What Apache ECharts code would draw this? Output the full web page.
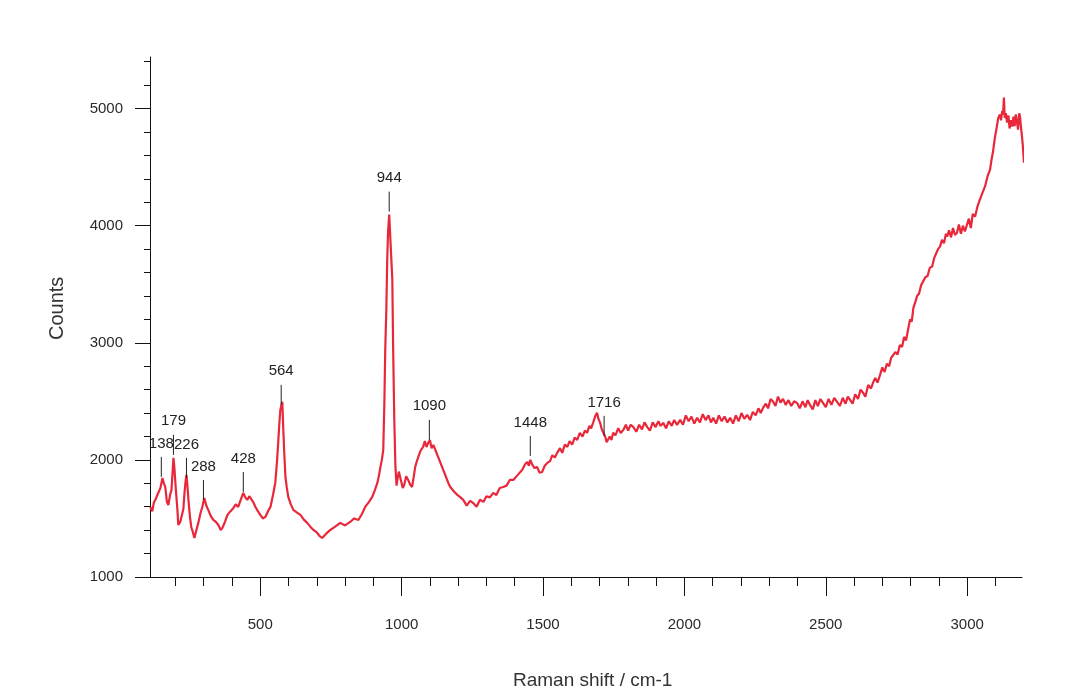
<!DOCTYPE html>
<html>
<head>
<meta charset="utf-8">
<script src="https://cdn.jsdelivr.net/npm/echarts@6/dist/echarts.min.js"></script>
<style>
  html, body { margin: 0; padding: 0; background: #ffffff; }
  #chart { width: 1086px; height: 696px; }
</style>
</head>
<body>
<div id="chart"></div>
<script>
// ---- data ----
const xTitle = 'Raman shift / cm-1';
const yTitle = 'Counts';

const xMajorTicks = [500, 1000, 1500, 2000, 2500, 3000];
const xMinorTicks = [200, 300, 400, 600, 700, 800, 900, 1100, 1200, 1300, 1400, 1600, 1700, 1800, 1900,
  2100, 2200, 2300, 2400, 2600, 2700, 2800, 2900, 3100];
const yMajorTicks = [1000, 2000, 3000, 4000, 5000];
const yMinorTicks = [1200, 1400, 1600, 1800, 2200, 2400, 2600, 2800, 3200, 3400, 3600, 3800,
  4200, 4400, 4600, 4800, 5200, 5400];

// spectrum: [Raman shift, counts]
const spectrum = [
[111,1598],[118,1560],[124,1640],[129,1658],[136,1700],[141,1690],[147,1761],[154,1846],[159,1800],[164,1769],
[170,1640],[175,1615],[181,1700],[186,1744],[190,1900],[193,2017],[196,1940],[201,1760],[207,1573],[210,1444],
[217,1470],[224,1462],[228,1580],[232,1718],[236,1820],[239,1872],[243,1760],[246,1658],[251,1520],[256,1427],
[262,1380],[267,1333],[274,1400],[281,1462],[288,1540],[295,1598],[302,1675],[309,1610],[316,1573],[325,1520],
[334,1487],[343,1470],[352,1444],[360,1400],[366,1419],[375,1470],[384,1530],[394,1560],[405,1590],[413,1620],
[422,1598],[431,1660],[440,1718],[447,1680],[454,1658],[461,1690],[468,1701],[475,1640],[483,1598],[492,1560],
[500,1530],[509,1500],[518,1513],[527,1560],[536,1598],[545,1700],[553,1803],[559,1980],[564,2171],[568,2330],
[571,2427],[575,2470],[578,2496],[581,2282],[585,2050],[589,1855],[594,1760],[599,1684],[608,1620],[617,1573],
[630,1550],[642,1530],[654,1490],[666,1462],[677,1430],[688,1402],[700,1380],[710,1350],[719,1333],[733,1370],
[748,1402],[765,1430],[783,1462],[800,1440],[818,1470],[832,1500],[847,1487],[860,1540],[871,1598],[884,1640],
[896,1684],[905,1740],[914,1803],[920,1870],[925,1940],[930,2000],[935,2085],[939,2500],[942,2940],[946,3300],
[949,3709],[952,3950],[956,4094],[960,4080],[963,4111],[967,3538],[970,2940],[974,2342],[978,1940],[982,1780],
[985,1829],[990,1900],[995,1889],[1000,1800],[1004,1760],[1009,1786],[1016,1860],[1023,1829],[1030,1790],[1037,1769],
[1043,1860],[1048,1940],[1054,1990],[1059,2026],[1067,2080],[1076,2111],[1082,2160],[1088,2110],[1094,2145],[1100,2170],
[1106,2100],[1112,2128],[1120,2080],[1129,2026],[1138,1970],[1147,1914],[1156,1860],[1165,1803],[1172,1769],[1185,1730],
[1197,1701],[1208,1680],[1218,1658],[1230,1610],[1242,1650],[1253,1632],[1265,1600],[1277,1660],[1289,1641],[1300,1690],
[1312,1680],[1324,1718],[1335,1700],[1347,1760],[1359,1769],[1371,1780],[1383,1830],[1395,1829],[1410,1870],[1426,1914],
[1436,1960],[1444,1983],[1450,1950],[1455,2000],[1462,1960],[1470,1930],[1479,1940],[1488,1890],[1497,1897],[1506,1950],
[1515,1974],[1525,1990],[1533,2040],[1542,2020],[1550,2060],[1560,2100],[1568,2060],[1577,2130],[1586,2111],[1594,2160],
[1603,2130],[1612,2190],[1621,2171],[1630,2230],[1640,2200],[1648,2250],[1656,2231],[1664,2290],[1670,2270],[1677,2316],
[1684,2370],[1691,2402],[1696,2350],[1702,2316],[1708,2260],[1714,2230],[1720,2197],[1725,2150],[1730,2145],[1736,2200],
[1742,2170],[1748,2231],[1756,2210],[1766,2270],[1775,2230],[1784,2256],[1793,2300],[1801,2250],[1810,2300],[1819,2282],
[1830,2240],[1840,2300],[1850,2260],[1859,2320],[1868,2282],[1878,2250],[1888,2320],[1898,2280],[1908,2330],[1916,2290],
[1925,2316],[1935,2270],[1945,2330],[1955,2290],[1964,2340],[1974,2299],[1985,2342],[1995,2300],[2005,2380],[2015,2330],
[2025,2370],[2035,2310],[2045,2359],[2055,2320],[2065,2390],[2075,2340],[2085,2380],[2094,2320],[2102,2359],[2112,2310],
[2122,2380],[2132,2330],[2142,2370],[2152,2320],[2162,2359],[2172,2310],[2182,2380],[2192,2330],[2202,2400],[2212,2350],
[2222,2385],[2232,2340],[2242,2410],[2252,2380],[2262,2440],[2270,2400],[2278,2444],[2288,2480],[2296,2440],[2305,2520],
[2314,2496],[2322,2460],[2331,2540],[2340,2490],[2349,2521],[2358,2470],[2368,2510],[2378,2460],[2388,2500],[2398,2487],
[2408,2440],[2418,2500],[2428,2450],[2436,2510],[2444,2470],[2454,2430],[2463,2510],[2472,2460],[2481,2520],[2490,2487],
[2500,2450],[2510,2520],[2520,2470],[2530,2530],[2540,2496],[2550,2460],[2560,2530],[2570,2480],[2578,2540],[2586,2513],
[2595,2480],[2604,2560],[2614,2520],[2623,2600],[2632,2573],[2640,2540],[2650,2640],[2660,2610],[2667,2658],[2675,2700],
[2683,2660],[2692,2726],[2700,2790],[2708,2750],[2716,2820],[2724,2800],[2731,2870],[2738,2855],[2746,2920],[2754,2900],
[2762,2980],[2770,2966],[2777,3050],[2784,3020],[2791,3111],[2798,3200],[2804,3180],[2810,3300],[2816,3342],[2823,3400],
[2830,3420],[2837,3490],[2844,3479],[2852,3560],[2860,3570],[2868,3640],[2876,3650],[2883,3720],[2890,3760],[2897,3800],
[2904,3821],[2911,3880],[2918,3850],[2925,3930],[2929,3906],[2936,3960],[2943,3900],[2950,3980],[2957,3920],[2964,3940],
[2971,4010],[2978,3930],[2985,4000],[2992,3950],[2999,3966],[3006,4060],[3013,3980],[3020,4100],[3028,4077],[3036,4160],
[3045,4222],[3054,4280],[3063,4333],[3072,4420],[3081,4479],[3086,4560],[3091,4624],[3098,4750],[3105,4846],[3110,4920],
[3116,4949],[3120,4900],[3124,4980],[3127,4950],[3130,5094],[3133,4920],[3137,4960],[3141,4880],[3146,4940],[3150,4830],
[3155,4900],[3159,4846],[3164,4930],[3168,4850],[3172,4950],[3176,4889],[3180,4820],[3184,4960],[3187,4932],[3190,4850],
[3194,4761],[3197,4680],[3201,4538]
];

// peak annotations: label text, position on the axis, counts at the foot of the marker
const peakLabels = ['138', '179', '226', '288', '428', '564', '944', '1090', '1448', '1716'];
const peakShift  = [150, 193, 239, 299, 440, 574, 956, 1098, 1455, 1716];
const peakFoot   = [1855, 2043, 1846, 1658, 1726, 2470, 4120, 2171, 2034, 2205];

// ---- chart ----
const chart = echarts.init(document.getElementById('chart'), null, { renderer: 'canvas' });
const FONT = '"Liberation Sans", Arial, sans-serif';
const X_MIN = 110, X_MAX = 3194, Y_MIN = 1000, Y_MAX = 5440;
const plain = v => String(v);

const peakData = peakShift.map((x, i) => [x, peakFoot[i]]);

const option = {
  backgroundColor: '#ffffff',
  animation: false,
  grid: { left: 150, right: 64, top: 57, bottom: 119, containLabel: false },
  xAxis: [
    {
      type: 'value', min: X_MIN, max: X_MAX, position: 'bottom',
      axisLine: { show: true, lineStyle: { color: '#111', width: 1 } },
      axisTick: { show: true, customValues: xMinorTicks, length: 9, lineStyle: { color: '#111' } },
      axisLabel: { show: false },
      splitLine: { show: false }
    },
    {
      type: 'value', min: X_MIN, max: X_MAX, position: 'bottom',
      axisLine: { show: false },
      axisTick: { show: true, customValues: xMajorTicks, length: 19, lineStyle: { color: '#111' } },
      axisLabel: { show: true, customValues: xMajorTicks, formatter: plain, margin: 40,
                   fontSize: 15, color: '#2a2a2a', fontFamily: FONT },
      splitLine: { show: false }
    }
  ],
  yAxis: [
    {
      type: 'value', min: Y_MIN, max: Y_MAX, position: 'left',
      axisLine: { show: true, lineStyle: { color: '#111', width: 1 } },
      axisTick: { show: true, customValues: yMajorTicks, length: 15, lineStyle: { color: '#111' } },
      axisLabel: { show: true, customValues: yMajorTicks, formatter: plain, margin: 27,
                   fontSize: 15, color: '#2a2a2a', fontFamily: FONT },
      splitLine: { show: false }
    },
    {
      type: 'value', min: Y_MIN, max: Y_MAX, position: 'left',
      axisLine: { show: false },
      axisTick: { show: true, customValues: yMinorTicks, length: 6, lineStyle: { color: '#111' } },
      axisLabel: { show: false },
      splitLine: { show: false }
    }
  ],
  series: [
    {
      type: 'line',
      data: spectrum,
      xAxisIndex: 0, yAxisIndex: 0,
      showSymbol: false,
      clip: false,
      lineStyle: { color: '#e8283a', width: 2.2 },
      z: 3
    },
    {
      type: 'custom',
      xAxisIndex: 0, yAxisIndex: 0,
      data: peakData,
      clip: false,
      z: 4,
      renderItem: function (params, api) {
        const p = api.coord([api.value(0), api.value(1)]);
        const top = p[1] - 20;
        return {
          type: 'group',
          children: [
            { type: 'line', shape: { x1: p[0], y1: p[1], x2: p[0], y2: top },
              style: { stroke: '#222', lineWidth: 1 } },
            { type: 'text', x: p[0], y: top - 6,
              style: { text: peakLabels[params.dataIndex], align: 'center', verticalAlign: 'bottom',
                       font: '15px ' + FONT, fill: '#222' } }
          ]
        };
      }
    }
  ],
  graphic: [
    { type: 'text', left: 513, top: 671,
      style: { text: xTitle, font: '19px ' + FONT, fill: '#333' } },
    { type: 'text', x: 47, y: 340, rotation: Math.PI / 2,
      style: { text: yTitle, font: '20px ' + FONT, fill: '#333' } }
  ]
};
chart.setOption(option);
</script>
</body>
</html>
